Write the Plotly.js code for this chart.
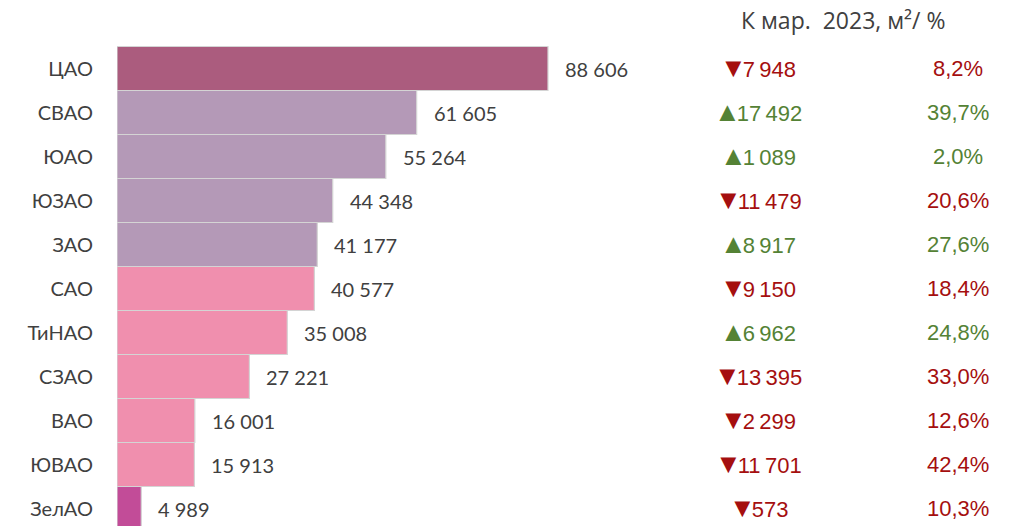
<!DOCTYPE html>
<html>
<head>
<meta charset="utf-8">
<script src="https://cdn.plot.ly/plotly-3.0.1.min.js"></script>
<style>html,body{margin:0;padding:0;background:#fff;}#chart{width:1011px;height:526px;}</style>
</head>
<body>
<div id="chart"></div>
<script>
const categories = ["ЦАО","СВАО","ЮАО","ЮЗАО","ЗАО","САО","ТиНАО","СЗАО","ВАО","ЮВАО","ЗелАО"];
const values = [88606, 61605, 55264, 44348, 41177, 40577, 35008, 27221, 16001, 15913, 4989];
const changeAbs = [-7948, 17492, 1089, -11479, 8917, -9150, 6962, -13395, -2299, -11701, -573];
const changePct = [8.2, 39.7, 2.0, 20.6, 27.6, 18.4, 24.8, 33.0, 12.6, 42.4, 10.3];
const headerText = "К мар.\u00a0\u00a02023, м²/ %";

const barColors = ["#AB5C7E","#B499B7","#B499B7","#B499B7","#B499B7","#F08FAE","#F08FAE","#F08FAE","#F08FAE","#F08FAE","#C24C98"];

function fmt(n, sep){
  return String(Math.abs(n)).replace(/\B(?=(\d{3})+(?!\d))/g, sep);
}
function fmtPct(p){ return p.toFixed(1).replace(".", ",") + "%"; }

const L = 117, W = 1011 - L;
const px = p => (p - L) / W;

const annotations = [];
categories.forEach((c, i) => {
  annotations.push({
    x: values[i], y: c, xref: "x", yref: "y", xanchor: "left", yanchor: "middle",
    xshift: 15, text: fmt(values[i], "\u00a0"), showarrow: false,
    font: {family: "Lato, 'Open Sans', sans-serif", size: 20, color: "#404040"}
  });
  const up = changeAbs[i] >= 0;
  const col = up ? "#548235" : "#A50F0F";
  annotations.push({
    x: px(758), y: c, xref: "paper", yref: "y", xanchor: "center", yanchor: "middle",
    text: '<span style="font-size:27px;letter-spacing:-4px">' + (up ? "▲" : "▼") + '</span>' + fmt(changeAbs[i], "\u2009"),
    showarrow: false, yshift: 1,
    font: {family: "'Liberation Sans', Arial, sans-serif", size: 22, color: col}
  });
  annotations.push({
    x: px(958), y: c, xref: "paper", yref: "y", xanchor: "center", yanchor: "middle",
    text: fmtPct(changePct[i]), showarrow: false,
    font: {family: "'Liberation Sans', Arial, sans-serif", size: 22, color: col}
  });
});
annotations.push({
  x: px(843), y: 1 - 20/526, xref: "paper", yref: "paper", xanchor: "center", yanchor: "middle",
  text: headerText, showarrow: false,
  font: {family: "'Open Sans', Lato, sans-serif", size: 23, color: "#404040"}
});

const pxPerUnit = 431 / 88606;
const xMax = W / pxPerUnit;

const trace = {
  type: "bar", orientation: "h",
  y: categories, x: values,
  marker: {color: barColors, line: {color: "#D4D4D4", width: 1.2}},
  hoverinfo: "none"
};

const layout = {
  width: 1011, height: 526,
  margin: {l: L, r: 0, t: 0, b: 0},
  paper_bgcolor: "#fff", plot_bgcolor: "#fff",
  showlegend: false, bargap: 0,
  xaxis: {range: [0, xMax], visible: false, fixedrange: true},
  yaxis: {
    type: "category", range: [(526 - 68.5)/44, -68.5/44],
    showgrid: false, zeroline: false, showline: false,
    ticks: "", ticklabelstandoff: 23,
    tickfont: {family: "Lato, 'Open Sans', sans-serif", size: 20, color: "#404040"}
  },
  annotations: annotations
};

Plotly.newPlot("chart", [trace], layout, {staticPlot: true, displayModeBar: false});
</script>
</body>
</html>
